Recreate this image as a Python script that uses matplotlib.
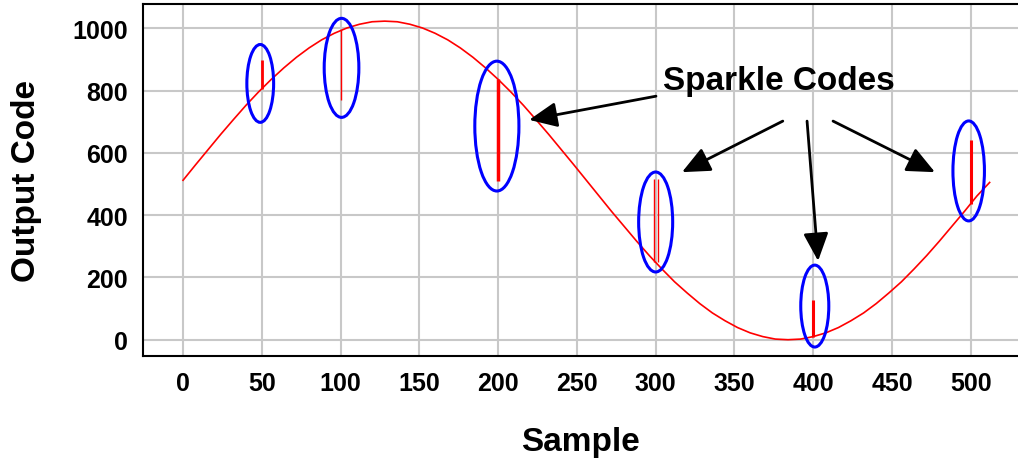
import matplotlib.pyplot as plt
from matplotlib.patches import Ellipse

# ADC output, every 8 samples
samples = list(range(0, 513, 8))
output_code = [512, 562, 611, 660, 707, 753, 796, 836, 873, 907, 937, 963, 984,
               1001, 1013, 1021, 1023, 1021, 1013, 1001, 984, 963, 937, 907, 873,
               836, 796, 753, 707, 660, 611, 562, 512, 462, 412, 364, 316, 270,
               227, 186, 150, 116, 86, 61, 39, 22, 10, 2, 0, 2, 10, 22, 39, 61,
               86, 116, 150, 186, 227, 270, 316, 364, 412, 462, 505]

# sparkle codes: sample, normal code, sparkle code
sparkle_samples = [50, 100, 200, 300, 400, 500]
sparkle_base = [806, 993, 836, 250, 10, 437]
sparkle_peak = [898, 770, 510, 516, 127, 641]
sparkle_width = [2.0, 1.0, 2.5, 1.0, 2.2, 2.2]

x_ticks = list(range(0, 501, 50))
y_ticks = list(range(0, 1001, 200))

plt.rcParams['font.family'] = ['Liberation Sans', 'DejaVu Sans']
plt.rcParams['font.weight'] = 'bold'

fig = plt.figure(figsize=(10.18, 4.64), dpi=100)
ax = fig.add_axes([0.1405, 0.2306, 0.8595, 0.7586])

ax.plot(samples, output_code, color='red', lw=1.2, zorder=3)

for s, b, p, w in zip(sparkle_samples, sparkle_base, sparkle_peak, sparkle_width):
    if s == 300:
        # drawn as a thin hollow bar in the original
        ax.vlines([s - 0.8, s + 1.2], b, p, color='red', lw=w, zorder=3)
    else:
        ax.vlines(s, b, p, color='red', lw=w, zorder=3)

# blue ellipses around each sparkle (centre x, centre y, width, height)
ellipses = [(49, 823, 17, 250), (100.6, 873, 22, 318), (199.2, 686, 28, 417),
            (300, 378, 21.6, 321), (401, 108, 17.8, 263), (498.7, 542, 20, 321)]
for cx, cy, w, h in ellipses:
    ax.add_patch(Ellipse((cx, cy), w, h, fill=False, edgecolor='#0000ff', lw=2.2, zorder=4))

ax.text(378, 833, 'Sparkle Codes', fontsize=24, fontweight='bold', ha='center', va='center', zorder=5)

arrows = [((300.2, 782), (219.7, 706)), ((380.7, 702), (316.7, 538)),
          ((396.1, 702), (403.1, 253)), ((412.6, 702), (477.3, 538))]
for tail, tip in arrows:
    ax.annotate('', xy=tip, xytext=tail,
                arrowprops=dict(arrowstyle='-|>,head_length=1.0,head_width=0.45',
                                color='black', lw=2.0, mutation_scale=17,
                                shrinkA=0, shrinkB=0), zorder=5)

ax.set_xlim(-25.4, 530)
ax.set_ylim(-52.3, 1078)
ax.set_xticks(x_ticks)
ax.set_yticks(y_ticks)
ax.tick_params(length=0, labelsize=18, pad=11)
for lab in ax.get_xticklabels() + ax.get_yticklabels():
    lab.set_fontweight('bold')
ax.grid(True, color='#c8c8c8', lw=1.5)
ax.set_axisbelow(True)

for side in ['left', 'top', 'bottom']:
    ax.spines[side].set_linewidth(1.5)
ax.spines['right'].set_visible(False)

ax.set_xlabel('Sample', fontsize=24, fontweight='bold', labelpad=22)
ax.set_ylabel('Output Code', fontsize=24, fontweight='bold', labelpad=22)

fig.savefig('out.png', dpi=100)
